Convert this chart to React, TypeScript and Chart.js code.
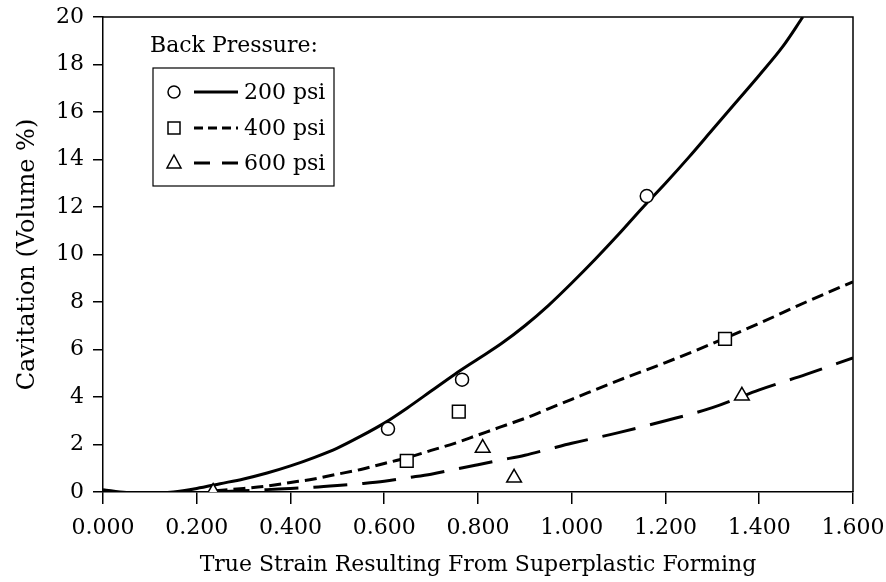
import React, { useEffect, useRef } from "react";
import { Chart, registerables } from "chart.js";

Chart.register(...registerables);

// Fitted curves
const curveX200 = [0, 0.05, 0.1, 0.15, 0.2, 0.25, 0.3, 0.35, 0.4, 0.45, 0.5, 0.55, 0.6, 0.65, 0.7, 0.75, 0.8, 0.85, 0.9, 0.95, 1.0, 1.05, 1.1, 1.15, 1.2, 1.25, 1.3, 1.35, 1.4, 1.45, 1.493];
const curveY200 = [0.1, -0.02, -0.05, 0.0, 0.15, 0.35, 0.55, 0.8, 1.1, 1.45, 1.85, 2.35, 2.9, 3.55, 4.25, 4.95, 5.6, 6.25, 7.0, 7.85, 8.8, 9.8, 10.85, 11.95, 13.0, 14.1, 15.25, 16.4, 17.55, 18.75, 20.0];

const curveX400 = [0.24, 0.3, 0.35, 0.4, 0.45, 0.5, 0.55, 0.6, 0.65, 0.7, 0.75, 0.8, 0.85, 0.9, 0.95, 1.0, 1.1, 1.2, 1.3, 1.4, 1.5, 1.6];
const curveY400 = [0.05, 0.15, 0.25, 0.4, 0.55, 0.75, 0.95, 1.2, 1.45, 1.75, 2.05, 2.4, 2.75, 3.1, 3.5, 3.9, 4.7, 5.45, 6.25, 7.1, 8.0, 8.85];

const curveX600 = [0.24, 0.3, 0.35, 0.4, 0.45, 0.5, 0.55, 0.6, 0.65, 0.7, 0.75, 0.8, 0.85, 0.9, 0.95, 1.0, 1.1, 1.2, 1.3, 1.4, 1.5, 1.6];
const curveY600 = [0.0, 0.05, 0.1, 0.15, 0.2, 0.27, 0.35, 0.45, 0.6, 0.75, 0.95, 1.15, 1.35, 1.55, 1.8, 2.05, 2.5, 3.0, 3.55, 4.3, 4.95, 5.65];

// Measured data points
const pointsX200 = [0.608, 0.766, 1.16];
const pointsY200 = [2.66, 4.73, 12.46];
const pointsX400 = [0.648, 0.759, 1.327];
const pointsY400 = [1.31, 3.38, 6.45];
const pointsX600 = [0.235, 0.81, 0.877, 1.363];
const pointsY600 = [0.0, 1.85, 0.6, 4.05];

const legendTitle = "Back Pressure:";
const legendLabels = ["200 psi", "400 psi", "600 psi"];
const xTitle = "True Strain Resulting From Superplastic Forming";
const yTitle = "Cavitation (Volume %)";

const FONT = "'DejaVu Serif', serif";
const DASH400 = [12, 6];
const DASH600 = [34, 15];

const pairs = (xs: number[], ys: number[]) => xs.map((x, i) => ({ x, y: ys[i] }));

const framePlugin = {
  id: "frameAndLegend",
  afterDraw(chart: any) {
    const { ctx, chartArea } = chart;
    ctx.save();
    ctx.strokeStyle = "#000";
    ctx.lineWidth = 1.5;
    ctx.beginPath();
    ctx.moveTo(chartArea.left, chartArea.top);
    ctx.lineTo(chartArea.right, chartArea.top);
    ctx.lineTo(chartArea.right, chartArea.bottom);
    ctx.stroke();

    // Legend
    ctx.fillStyle = "#000";
    ctx.font = `22px ${FONT}`;
    ctx.textBaseline = "middle";
    ctx.textAlign = "left";
    ctx.fillText(legendTitle, 150, 46);
    ctx.lineWidth = 1.2;
    ctx.strokeRect(153, 68, 181, 118);
    const rows = [92, 128, 163];
    const dashes = [[], [9, 5], [16, 12]];
    rows.forEach((ry, i) => {
      ctx.lineWidth = 1.5;
      ctx.setLineDash([]);
      ctx.fillStyle = "#fff";
      ctx.beginPath();
      if (i === 0) {
        ctx.arc(174, ry, 6, 0, Math.PI * 2);
      } else if (i === 1) {
        ctx.rect(168, ry - 6, 12, 12);
      } else {
        ctx.moveTo(174, ry - 8);
        ctx.lineTo(181, ry + 5);
        ctx.lineTo(167, ry + 5);
        ctx.closePath();
      }
      ctx.fill();
      ctx.stroke();
      ctx.lineWidth = 3;
      ctx.setLineDash(dashes[i]);
      ctx.beginPath();
      ctx.moveTo(194, ry);
      ctx.lineTo(238, ry);
      ctx.stroke();
      ctx.setLineDash([]);
      ctx.fillStyle = "#000";
      ctx.fillText(legendLabels[i], 244, ry + 1);
    });
    ctx.restore();
  },
};

export default function App() {
  const ref = useRef<HTMLCanvasElement>(null);
  useEffect(() => {
    if (!ref.current) return;
    const lineDs = (xs: number[], ys: number[], dash: number[]) => ({
      type: "line" as const,
      data: pairs(xs, ys),
      borderColor: "#000",
      borderWidth: 3,
      borderDash: dash,
      pointRadius: 0,
      cubicInterpolationMode: "monotone" as const,
      fill: false,
      order: 2,
    });
    const ptDs = (xs: number[], ys: number[], style: string, r: number) => ({
      type: "scatter" as const,
      data: pairs(xs, ys),
      pointStyle: style,
      pointRadius: r,
      pointBorderWidth: 1.5,
      pointBorderColor: "#000",
      pointBackgroundColor: "#fff",
      showLine: false,
      order: 1,
    });
    const chart = new Chart(ref.current, {
      type: "scatter",
      data: {
        datasets: [
          lineDs(curveX200, curveY200, []),
          lineDs(curveX400, curveY400, DASH400),
          lineDs(curveX600, curveY600, DASH600),
          ptDs(pointsX200, pointsY200, "circle", 6.5),
          ptDs(pointsX400, pointsY400, "rect", 9),
          ptDs(pointsX600, pointsY600, "triangle", 8.5),
        ] as any,
      },
      options: {
        animation: false,
        responsive: false,
        maintainAspectRatio: false,
        layout: { padding: { left: 0, right: 33, top: 17, bottom: 0 } },
        plugins: { legend: { display: false }, tooltip: { enabled: false } },
        scales: {
          x: {
            type: "linear",
            min: 0,
            max: 1.6,
            afterFit: (s: any) => {
              s.height = 90;
              s.paddingLeft = 0;
              s.paddingRight = 0;
            },
            ticks: {
              stepSize: 0.2,
              color: "#000",
              padding: 11,
              maxRotation: 0,
              font: { family: FONT, size: 22 },
              callback: (v: any) => Number(v).toFixed(3),
            },
            grid: { drawOnChartArea: false, tickLength: 12, color: "#000", lineWidth: 1.5 },
            border: { display: true, color: "#000", width: 1.5 },
            title: {
              display: true,
              text: xTitle,
              color: "#000",
              font: { family: FONT, size: 22 },
              padding: { top: 0, bottom: 4 },
            },
          },
          y: {
            type: "linear",
            min: 0,
            max: 20,
            afterFit: (s: any) => {
              s.width = 103;
              s.paddingTop = 0;
              s.paddingBottom = 0;
            },
            ticks: {
              stepSize: 2,
              color: "#000",
              padding: 9,
              font: { family: FONT, size: 22 },
            },
            grid: { drawOnChartArea: false, tickLength: 10, color: "#000", lineWidth: 1.5 },
            border: { display: true, color: "#000", width: 1.5 },
            title: {
              display: true,
              text: yTitle,
              color: "#000",
              font: { family: FONT, size: 24 },
              padding: { top: 13, bottom: 0 },
            },
          },
        },
      },
      plugins: [framePlugin],
    });
    return () => chart.destroy();
  }, []);
  return (
    <div style={{ position: "fixed", left: 0, top: 0, width: 886, height: 582, background: "#fff" }}>
      <canvas ref={ref} width={886} height={582} style={{ width: 886, height: 582, display: "block" }} />
    </div>
  );
}
